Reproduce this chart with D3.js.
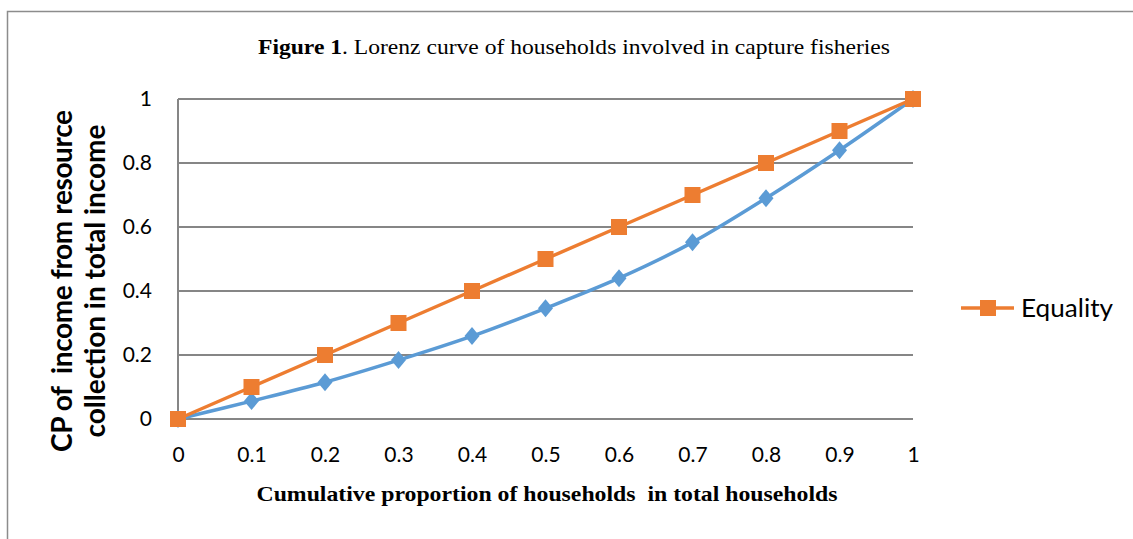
<!DOCTYPE html>
<html>
<head>
<meta charset="utf-8">
<script src="https://cdn.jsdelivr.net/npm/d3@7"></script>
<style>
  body { margin: 0; background: #fff; }
  svg { display: block; }
  text { white-space: pre; }
</style>
</head>
<body>
<div id="chart"></div>
<script>
// data
var shares = [0, 0.1, 0.2, 0.3, 0.4, 0.5, 0.6, 0.7, 0.8, 0.9, 1];
var lorenz = [0, 0.056, 0.115, 0.184, 0.259, 0.346, 0.44, 0.552, 0.69, 0.84, 1];
var equality = [0, 0.1, 0.2, 0.3, 0.4, 0.5, 0.6, 0.7, 0.8, 0.9, 1];
var yTicks = [0, 0.2, 0.4, 0.6, 0.8, 1];

var W = 1133, H = 539;
var margin = { left: 178, right: 220, top: 99, bottom: 120 };
var width = W - margin.left - margin.right;
var height = H - margin.top - margin.bottom;

var svg = d3.select("#chart")
    .append("svg")
    .attr("width", W)
    .attr("height", H);

// outer frame (only top and left edges visible)
svg.append("path")
    .attr("d", "M7.5," + H + " V11.5 H" + W)
    .attr("fill", "none")
    .attr("stroke", "#8c8c8c")
    .attr("stroke-width", 1.5);

// title
var title = svg.append("text")
    .attr("x", 574)
    .attr("y", 54)
    .attr("text-anchor", "middle")
    .attr("font-family", "Liberation Serif, serif")
    .attr("font-size", "21px")
    .attr("textLength", 632)
    .attr("lengthAdjust", "spacingAndGlyphs");
title.append("tspan").attr("font-weight", "bold").text("Figure 1");
title.append("tspan").text(". Lorenz curve of households involved in capture fisheries");

var g = svg.append("g")
    .attr("transform", "translate(" + margin.left + "," + margin.top + ")");

var x = d3.scaleLinear().domain([0, 1]).range([0, width]);
var y = d3.scaleLinear().domain([0, 1]).range([height, 0]);

// gridlines
g.append("g")
    .selectAll("line")
    .data(yTicks)
    .enter()
    .append("line")
    .attr("x1", 0)
    .attr("x2", width)
    .attr("y1", function(d) { return y(d); })
    .attr("y2", function(d) { return y(d); })
    .attr("stroke", "#868686")
    .attr("stroke-width", 2);

// left axis line
g.append("line")
    .attr("x1", 0).attr("x2", 0)
    .attr("y1", 0).attr("y2", height)
    .attr("stroke", "#868686")
    .attr("stroke-width", 2);

var tickFont = "Lato, 'Open Sans', sans-serif";

// y axis labels
var yAxisCall = d3.axisLeft(y)
    .tickValues(yTicks)
    .tickSize(0)
    .tickPadding(26)
    .tickFormat(function(d) { return d3.format("")(d); });
var yAx = g.append("g").call(yAxisCall);
yAx.select(".domain").remove();
yAx.selectAll("text")
    .attr("font-family", tickFont)
    .attr("font-size", "21px")
    .attr("fill", "#000");

// x axis labels
var xAxisCall = d3.axisBottom(x)
    .tickValues(shares)
    .tickSize(0)
    .tickPadding(28)
    .tickFormat(function(d) { return d3.format("")(d); });
var xAx = g.append("g")
    .attr("transform", "translate(0," + height + ")")
    .call(xAxisCall);
xAx.select(".domain").remove();
xAx.selectAll("text")
    .attr("font-family", tickFont)
    .attr("font-size", "21px")
    .attr("fill", "#000");

// lines
var lorenzLine = d3.line()
    .x(function(d, i) { return x(shares[i]); })
    .y(function(d) { return y(d); })
    .curve(d3.curveCatmullRom.alpha(0.5));

var eqLine = d3.line()
    .x(function(d, i) { return x(shares[i]); })
    .y(function(d) { return y(d); });

g.append("path")
    .datum(lorenz)
    .attr("d", lorenzLine)
    .attr("fill", "none")
    .attr("stroke", "#5b9bd5")
    .attr("stroke-width", 3.5);

g.selectAll(".diamond")
    .data(lorenz)
    .enter()
    .append("path")
    .attr("class", "diamond")
    .attr("transform", function(d, i) {
        return "translate(" + x(shares[i]) + "," + y(d) + ")";
    })
    .attr("d", "M0,-9 L7.5,0 L0,9 L-7.5,0 Z")
    .attr("fill", "#5b9bd5");

g.append("path")
    .datum(equality)
    .attr("d", eqLine)
    .attr("fill", "none")
    .attr("stroke", "#ed7d31")
    .attr("stroke-width", 3.5);

g.selectAll(".square")
    .data(equality)
    .enter()
    .append("rect")
    .attr("class", "square")
    .attr("x", function(d, i) { return x(shares[i]) - 8; })
    .attr("y", function(d) { return y(d) - 8; })
    .attr("width", 16)
    .attr("height", 16)
    .attr("fill", "#ed7d31");

// legend
var leg = svg.append("g").attr("transform", "translate(961,308)");
leg.append("line")
    .attr("x1", 0).attr("x2", 53)
    .attr("stroke", "#ed7d31")
    .attr("stroke-width", 3.5);
leg.append("rect")
    .attr("x", 19).attr("y", -8)
    .attr("width", 16).attr("height", 16)
    .attr("fill", "#ed7d31");
leg.append("text")
    .attr("x", 60)
    .attr("y", 9)
    .attr("font-family", tickFont)
    .attr("font-size", "25px")
    .attr("textLength", 92)
    .attr("lengthAdjust", "spacingAndGlyphs")
    .attr("fill", "#000")
    .text("Equality");

// x label
svg.append("text")
    .attr("x", 547)
    .attr("y", 501)
    .attr("text-anchor", "middle")
    .attr("font-family", "Liberation Serif, serif")
    .attr("font-weight", "bold")
    .attr("font-size", "22px")
    .attr("textLength", 581)
    .attr("lengthAdjust", "spacingAndGlyphs")
    .text("Cumulative proportion of households  in total households");

// y label, two lines
var yl = svg.append("text")
    .attr("transform", "translate(0,281) rotate(-90)")
    .attr("text-anchor", "middle")
    .attr("font-family", tickFont)
    .attr("font-weight", "bold")
    .attr("font-size", "28px")
    .attr("lengthAdjust", "spacingAndGlyphs")
    .attr("fill", "#000");
yl.append("tspan").attr("x", 0).attr("y", 72)
    .attr("textLength", 342)
    .text("CP of  income from resource");
yl.append("tspan").attr("x", 0).attr("y", 105)
    .attr("textLength", 313)
    .text("collection in total income");
</script>
</body>
</html>
